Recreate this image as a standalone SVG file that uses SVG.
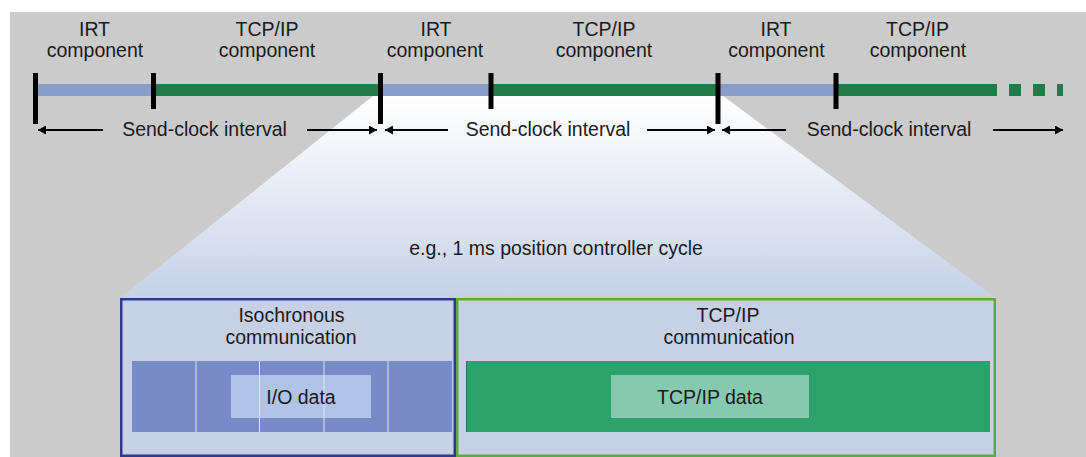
<svg xmlns="http://www.w3.org/2000/svg" width="1086" height="457" viewBox="0 0 1086 457">
<defs>
<style>
text{font-family:"Liberation Sans",Arial,sans-serif;font-size:19.5px;fill:#1a1a1a;text-anchor:middle}
.irt{fill:#8a9cc8}
.tcp{fill:#237a4b}
.tick{fill:#000}
.arr{stroke:#000;stroke-width:2;fill:none;marker-end:url(#ah)}
.sep{stroke:#dde4f2;stroke-width:1}
</style>
<marker id="ah" viewBox="0 0 8 9" refX="8" refY="4.5" markerWidth="8" markerHeight="9" markerUnits="userSpaceOnUse" orient="auto">
<path d="M0,0 L8,4.5 L0,9 Z" fill="#000"/>
</marker>
<linearGradient id="fan" x1="0" y1="96" x2="0" y2="298" gradientUnits="userSpaceOnUse">
<stop offset="0" stop-color="#ffffff"/>
<stop offset="0.25" stop-color="#f3f5fa"/>
<stop offset="1" stop-color="#c6d1e6"/>
</linearGradient>
</defs>
<rect x="10" y="12" width="1076" height="445" fill="#cbcbcb"/>
<polygon points="373,96 723,96 996,298 120,298" fill="url(#fan)"/>
<g id="timeline">
<rect class="irt" x="35" y="84" width="118" height="12"/>
<rect class="tcp" x="153" y="84" width="228" height="12"/>
<rect class="irt" x="381" y="84" width="110" height="12"/>
<rect class="tcp" x="491" y="84" width="227" height="12"/>
<rect class="irt" x="718" y="84" width="118" height="12"/>
<rect class="tcp" x="836" y="84" width="161" height="12"/>
<rect class="tcp" x="1009" y="84" width="12" height="12"/>
<rect class="tcp" x="1033" y="84" width="12" height="12"/>
<rect class="tcp" x="1057" y="84" width="6" height="12"/>
<rect class="tick" x="33" y="73" width="5" height="51"/>
<rect class="tick" x="151" y="73" width="5" height="36"/>
<rect class="tick" x="378" y="73" width="5" height="51"/>
<rect class="tick" x="488.5" y="73" width="5" height="36"/>
<rect class="tick" x="715.5" y="73" width="5" height="51"/>
<rect class="tick" x="833.5" y="73" width="5" height="36"/>
</g>
<g id="labels">
<text x="94.5" y="36">IRT</text><text x="95" y="57">component</text>
<text x="267" y="36">TCP/IP</text><text x="267" y="57">component</text>
<text x="436" y="36">IRT</text><text x="435" y="57">component</text>
<text x="604" y="36">TCP/IP</text><text x="604" y="57">component</text>
<text x="776" y="36">IRT</text><text x="776.5" y="57">component</text>
<text x="917.5" y="36">TCP/IP</text><text x="918" y="57">component</text>
<text x="204.5" y="136">Send-clock interval</text>
<text x="548" y="136">Send-clock interval</text>
<text x="889" y="136">Send-clock interval</text>
<text x="556" y="255">e.g., 1 ms position controller cycle</text>
</g>
<g id="connectors">
<line class="arr" x1="103" y1="130" x2="38" y2="130"/>
<line class="arr" x1="307" y1="130" x2="377" y2="130"/>
<line class="arr" x1="448" y1="130" x2="385" y2="130"/>
<line class="arr" x1="647" y1="130" x2="715" y2="130"/>
<line class="arr" x1="786" y1="130" x2="722" y2="130"/>
<line class="arr" x1="993" y1="130" x2="1063" y2="130"/>
</g>
<g id="iso">
<rect x="121.25" y="299.25" width="333.5" height="156.5" fill="#c6d1e6" stroke="#2e3a8f" stroke-width="2.5"/>
<text x="291.5" y="322">Isochronous</text>
<text x="291" y="344">communication</text>
<rect x="132" y="361" width="320" height="71" fill="#798bc6"/>
<rect x="231" y="375" width="140" height="43" fill="#b1c3e6"/>
<line class="sep" x1="196" y1="361" x2="196" y2="432"/>
<line class="sep" x1="259.5" y1="361" x2="259.5" y2="432"/>
<line class="sep" x1="324" y1="361" x2="324" y2="432"/>
<line class="sep" x1="388" y1="361" x2="388" y2="432"/>
<text x="301" y="404">I/O data</text>
</g>
<g id="tcpip">
<rect x="457.25" y="299.25" width="537.5" height="156.5" fill="#c6d1e6" stroke="#5aae35" stroke-width="2.5"/>
<text x="728" y="322">TCP/IP</text>
<text x="729" y="344">communication</text>
<rect x="466" y="361" width="524" height="71" fill="#2ca16c"/>
<rect x="466" y="361" width="1" height="71" fill="#1e7a4e"/>
<rect x="611" y="375" width="198" height="43" fill="#86c8b0"/>
<text x="710" y="404">TCP/IP data</text>
</g>
</svg>
